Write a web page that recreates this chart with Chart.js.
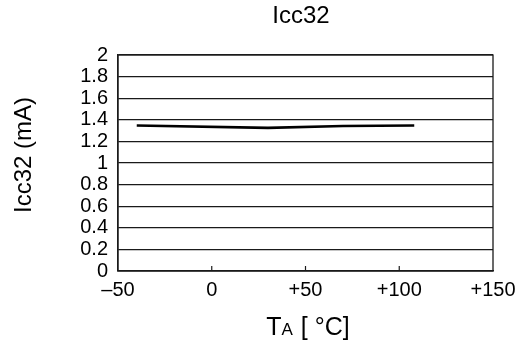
<!DOCTYPE html>
<html>
<head>
<meta charset="utf-8">
<script src="https://cdn.jsdelivr.net/npm/chart.js@4/dist/chart.umd.min.js"></script>
<style>
  html, body { margin: 0; padding: 0; background: #fff; }
  #wrap { width: 523px; height: 349px; }
</style>
</head>
<body>
<div id="wrap"><canvas id="c" width="523" height="349"></canvas></div>
<script>
// ---- data ----
const temps = [-40, 30, 70, 108];           // TA [°C]
const icc32 = [1.347, 1.325, 1.343, 1.347];   // mA
const xTickValues = [-50, 0, 50, 100, 150];
const xTickLabels = ['\u201350', '0', '+50', '+100', '+150'];
const yTickValues = [0, 0.2, 0.4, 0.6, 0.8, 1, 1.2, 1.4, 1.6, 1.8, 2];
const yTickLabels = ['0', '0.2', '0.4', '0.6', '0.8', '1', '1.2', '1.4', '1.6', '1.8', '2'];
const chartTitle = 'Icc32';
const yTitle = 'Icc32 (mA)';
const xTitleMain = 'T';
const xTitleSub = 'A';
const xTitleRest = ' [ \u00B0C]';

const FONT = '"Liberation Sans", Arial, Helvetica, sans-serif';
const INK = '#1a1a1a';

const points = temps.map((t, i) => ({ x: t, y: icc32[i] }));

const decorPlugin = {
  id: 'decor',
  afterDraw(chart) {
    const ctx = chart.ctx;
    const a = chart.chartArea;
    const xs = chart.scales.x;
    ctx.save();
    // frame
    ctx.strokeStyle = INK;
    ctx.lineWidth = 1.3;
    ctx.strokeRect(a.left, a.top, a.right - a.left, a.bottom - a.top);
    // inward x ticks
    ctx.lineWidth = 1.2;
    xs.ticks.forEach(t => {
      if (t.value <= xs.min || t.value >= xs.max) return;
      const px = xs.getPixelForValue(t.value);
      ctx.beginPath();
      ctx.moveTo(px, a.bottom);
      ctx.lineTo(px, a.bottom - 5);
      ctx.stroke();
    });
    // chart title
    ctx.fillStyle = '#000';
    ctx.textAlign = 'center';
    ctx.textBaseline = 'middle';
    ctx.font = '24px ' + FONT;
    ctx.fillText(chartTitle, 301, 16);
    // y title
    ctx.save();
    ctx.translate(24, 155);
    ctx.rotate(-Math.PI / 2);
    ctx.font = '24px ' + FONT;
    ctx.fillText(yTitle, 0, 0);
    ctx.restore();
    // x title with small-cap subscript A
    const big = '25px ' + FONT, small = '17px ' + FONT;
    ctx.font = big; const wT = ctx.measureText(xTitleMain).width;
    const wR = ctx.measureText(xTitleRest).width;
    ctx.font = small; const wA = ctx.measureText(xTitleSub).width;
    const total = wT + wA + 1 + wR;
    let x0 = 308 - total / 2;
    const base = 335;
    ctx.textAlign = 'left';
    ctx.textBaseline = 'alphabetic';
    ctx.font = big; ctx.fillText(xTitleMain, x0, base);
    ctx.font = small; ctx.fillText(xTitleSub, x0 + wT, base);
    ctx.font = big; ctx.fillText(xTitleRest, x0 + wT + wA + 1, base);
    ctx.restore();
  }
};

new Chart(document.getElementById('c'), {
  type: 'line',
  data: {
    datasets: [{
      data: points,
      borderColor: '#000',
      borderWidth: 2.6,
      pointRadius: 0,
      tension: 0,
      fill: false
    }]
  },
  options: {
    responsive: false,
    animation: false,
    devicePixelRatio: 1,
    layout: { padding: { top: 55, right: 30, left: 0, bottom: 0 } },
    plugins: { legend: { display: false }, title: { display: false }, tooltip: { enabled: false } },
    scales: {
      x: {
        type: 'linear',
        min: -50, max: 150,
        afterBuildTicks(scale) { scale.ticks = xTickValues.map(v => ({ value: v })); },
        afterFit(scale) { scale.height = 78; },
        ticks: {
          color: '#000',
          font: { family: FONT, size: 20 },
          padding: 7,
          maxRotation: 0,
          autoSkip: false,
          callback: (v) => xTickLabels[xTickValues.indexOf(v)]
        },
        grid: { display: true, drawOnChartArea: false, drawTicks: false },
        border: { display: true, color: INK, width: 1.3 }
      },
      y: {
        type: 'linear',
        min: 0, max: 2,
        afterBuildTicks(scale) { scale.ticks = yTickValues.map(v => ({ value: v })); },
        afterFit(scale) { scale.width = 118; },
        ticks: {
          color: '#000',
          font: { family: FONT, size: 20 },
          padding: 10,
          autoSkip: false,
          callback: (v) => yTickLabels[yTickValues.indexOf(v)]
        },
        grid: { color: INK, lineWidth: 1.3, drawTicks: false },
        border: { display: true, color: INK, width: 1.3 }
      }
    }
  },
  plugins: [decorPlugin]
});
</script>
</body>
</html>
